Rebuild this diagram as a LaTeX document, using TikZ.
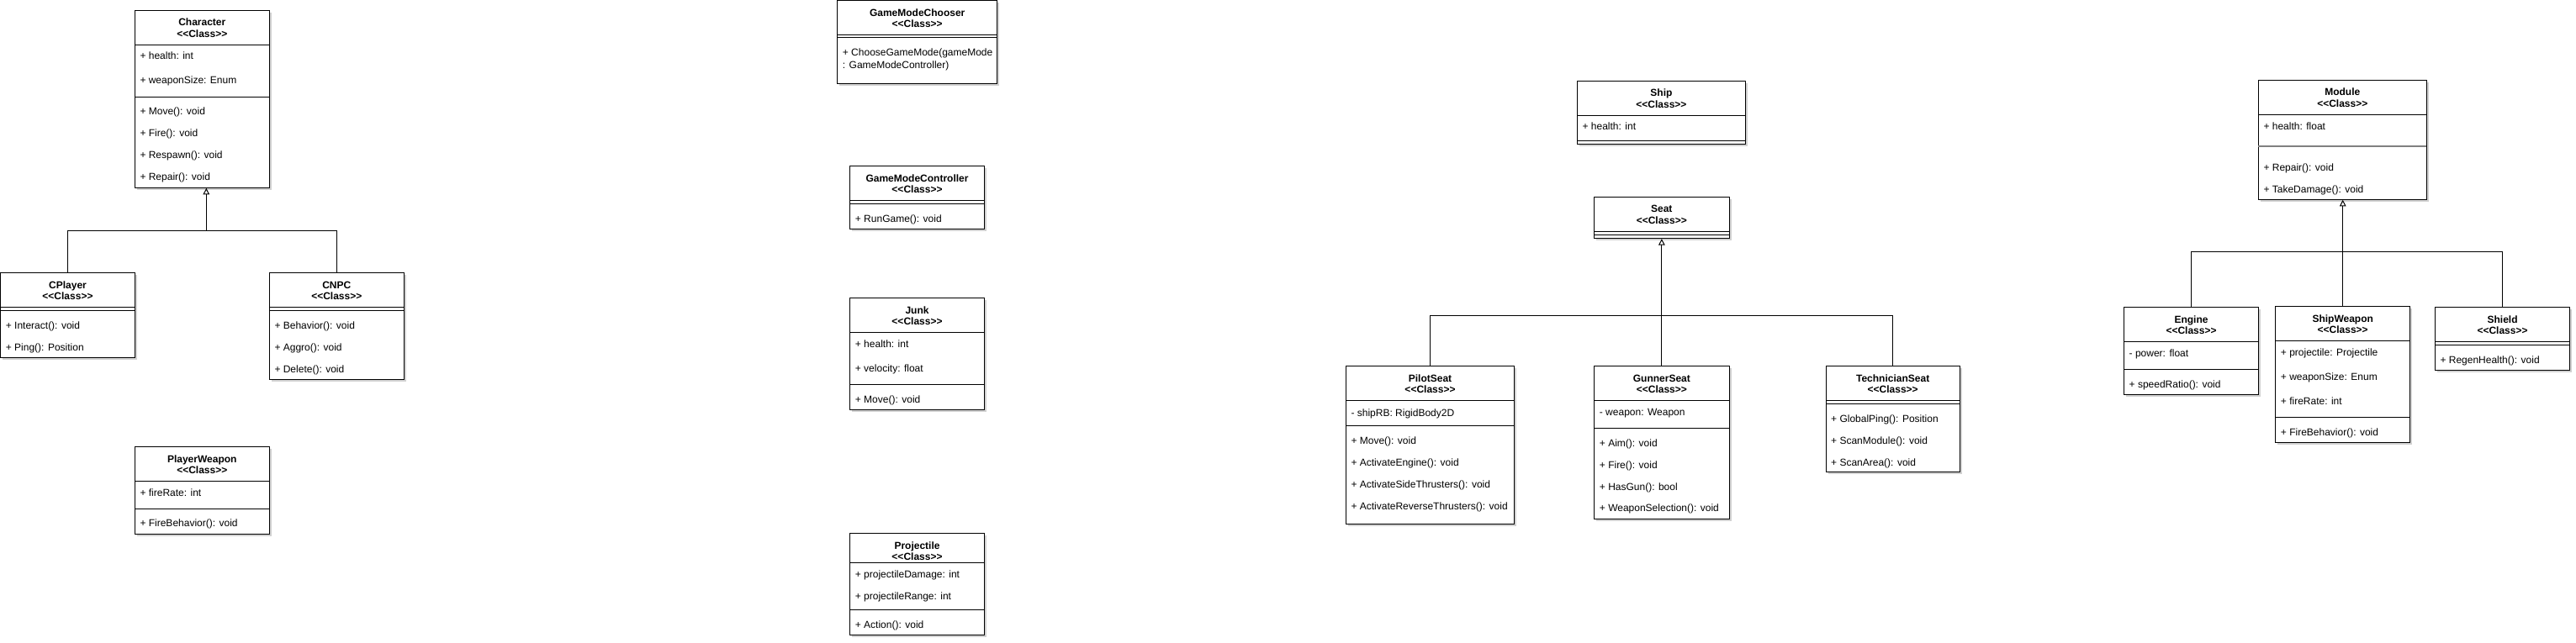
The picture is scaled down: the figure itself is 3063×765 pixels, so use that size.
\documentclass[tikz,border=0pt]{standalone}
\usepackage{fontspec}
\newfontfamily\umlf{Liberation Sans}
\usetikzlibrary{arrows.meta,fit,shadows}
\newcounter{itm}
\newcommand\ucls[5]{\node[cls, fit={(#2,#3) (#4,#5)}] (#1) {};\def\cxl{#2}\def\cxr{#4}\pgfmathsetmacro\cxm{(#2+#4)/2}}
\newcommand\usep[1]{\draw[sepl] (\cxl,#1) -- (\cxr,#1);}
\newcommand\uttl[3]{\node[ttl] (#1-name) at (\cxm,#2+4.3) {#1};\node[ttl] (#1-st) at (\cxm,#3+4.3) {<<Class>>};}
\newcommand\uit[2]{\stepcounter{itm}\node[itm] (it\arabic{itm}) at (\cxl+6,#1+4.3) {#2};}
\begin{document}
\begin{tikzpicture}[x=1pt,y=-1pt,
  cls/.style={draw=black, line width=1pt, fill=white, inner sep=0pt,
    drop shadow={shadow xshift=2.5pt, shadow yshift=-2.5pt, opacity=0.18, fill=black}},
  itm/.style={anchor=base west, inner sep=0pt, font=\umlf\fontsize{12}{14}\selectfont},
  ttl/.style={anchor=base, inner sep=0pt, font=\umlf\bfseries\fontsize{12}{14}\selectfont},
  sepl/.style={line width=1pt},
  gsep/.style={line width=2pt, draw=black!50},
  conn/.style={line width=1pt},
  inh/.style={line width=1pt, -{Triangle[open, length=7.5pt, width=7.5pt]}}]
\useasboundingbox (0,0) rectangle (3063,765);

% Character
\ucls{Character}{160.3}{12.3}{320.3}{223.3}
\usep{53.3}\usep{115.3}
\uttl{Character}{26.7}{40.3}
\uit{66.7}{+ health: int}
\uit{95.7}{+ weaponSize: Enum}
\uit{132.7}{+ Move(): void}
\uit{158.3}{+ Fire(): void}
\uit{184.3}{+ Respawn(): void}
\uit{210.3}{+ Repair(): void}

% CPlayer
\ucls{CPlayer}{0.7}{324.3}{160.3}{425.3}
\usep{365.3}\usep{369.3}
\uttl{CPlayer}{338.7}{352.3}
\uit{386.7}{+ Interact(): void}
\uit{412.7}{+ Ping(): Position}

% CNPC
\ucls{CNPC}{320.3}{324.3}{480.3}{451.3}
\usep{365.3}\usep{369.3}
\uttl{CNPC}{338.7}{352.3}
\uit{386.7}{+ Behavior(): void}
\uit{412.7}{+ Aggro(): void}
\uit{438.7}{+ Delete(): void}

% PlayerWeapon
\ucls{PlayerWeapon}{160.3}{531.7}{320.3}{635.7}
\usep{572.3}\usep{605.7}
\uttl{PlayerWeapon}{545.7}{559.3}
\uit{585.7}{+ fireRate: int}
\uit{622}{+ FireBehavior(): void}

% GameModeChooser
\ucls{GameModeChooser}{995.7}{0.7}{1185.7}{100}
\usep{41.3}\usep{45}
\uttl{GameModeChooser}{15}{28.3}
\uit{62.3}{+ ChooseGameMode(gameMode}
\uit{77}{: GameModeController)}

% GameModeController
\ucls{GameModeController}{1010.7}{197.3}{1170.3}{272}
\usep{238.3}\usep{242.3}
\uttl{GameModeController}{211.7}{225}
\uit{260}{+ RunGame(): void}

% Junk
\ucls{Junk}{1010.7}{354.7}{1170.3}{487}
\usep{395}\usep{457.3}
\uttl{Junk}{369}{382.3}
\uit{409}{+ health: int}
\uit{437.7}{+ velocity: float}
\uit{475}{+ Move(): void}

% Projectile
\ucls{Projectile}{1010.7}{634}{1170.3}{755.3}
\usep{669}\usep{725.7}
\uttl{Projectile}{649}{662.3}
\uit{682.7}{+ projectileDamage: int}
\uit{709}{+ projectileRange: int}
\uit{742.7}{+ Action(): void}

% Ship
\ucls{Ship}{1875.4}{96.4}{2075.4}{171.4}
\usep{137.5}\usep{167.1}
\uttl{Ship}{110.7}{124.6}
\uit{150.7}{+ health: int}

% Seat
\ucls{Seat}{1895.5}{234.3}{2056.1}{283.6}
\usep{275.4}\usep{279.6}
\uttl{Seat}{248.2}{262.5}

% PilotSeat
\ucls{PilotSeat}{1600.3}{435.3}{1800.7}{623}
\usep{476.3}\usep{506.3}
\uttl{PilotSeat}{449.7}{463.3}
\uit{490.7}{- shipRB: RigidBody2D}
\uit{524}{+ Move(): void}
\uit{549.7}{+ ActivateEngine(): void}
\uit{575.7}{+ ActivateSideThrusters(): void}
\uit{602}{+ ActivateReverseThrusters(): void}

% GunnerSeat
\ucls{GunnerSeat}{1895.7}{435.3}{2056}{617.3}
\usep{476.3}\usep{509.3}
\uttl{GunnerSeat}{449.7}{463.3}
\uit{490}{- weapon: Weapon}
\uit{527.3}{+ Aim(): void}
\uit{553}{+ Fire(): void}
\uit{578.7}{+ HasGun(): bool}
\uit{604.3}{+ WeaponSelection(): void}

% TechnicianSeat
\ucls{TechnicianSeat}{2171}{435.3}{2330.3}{561.3}
\usep{476}\usep{480.3}
\uttl{TechnicianSeat}{450}{463.3}
\uit{497.7}{+ GlobalPing(): Position}
\uit{524}{+ ScanModule(): void}
\uit{550}{+ ScanArea(): void}

% Module
\ucls{Module}{2685.3}{95.3}{2885.3}{237.3}
\usep{136.3}
\draw[gsep] (\cxl,174) -- (\cxr,174);
\uttl{Module}{109.7}{123.3}
\uit{149.7}{+ health: float}
\uit{198.7}{+ Repair(): void}
\uit{224.7}{+ TakeDamage(): void}

% Engine
\ucls{Engine}{2525.5}{365.7}{2685.6}{469.3}
\usep{406.3}\usep{439.3}
\uttl{Engine}{379.7}{393.3}
\uit{419.7}{- power: float}
\uit{456.7}{+ speedRatio(): void}

% ShipWeapon
\ucls{ShipWeapon}{2705.7}{364.7}{2865.7}{526}
\usep{405.3}\usep{496}
\uttl{ShipWeapon}{378.7}{392.3}
\uit{419}{+ projectile: Projectile}
\uit{447.7}{+ weaponSize: Enum}
\uit{476.7}{+ fireRate: int}
\uit{513.7}{+ FireBehavior(): void}

% Shield
\ucls{Shield}{2895.3}{365.7}{3055.8}{440.3}
\usep{406.3}\usep{410.3}
\uttl{Shield}{379.7}{393.3}
\uit{427.7}{+ RegenHealth(): void}

% connectors
\coordinate (jc) at (245.3,274.3);
\coordinate (js) at (1975.8,375.4);
\coordinate (jm) at (2785.5,299.3);
\draw[conn] (CPlayer.north) |- (jc) -| (CNPC.north);
\draw[inh] (jc) -- (jc |- Character.south);
\draw[conn] (PilotSeat.north) |- (js) -| (TechnicianSeat.north);
\draw[inh] (GunnerSeat.north) -- (GunnerSeat.north |- Seat.south);
\draw[conn] (Engine.north) |- (jm) -| (Shield.north);
\draw[inh] (ShipWeapon.north) -- (ShipWeapon.north |- Module.south);
\end{tikzpicture}
\end{document}
